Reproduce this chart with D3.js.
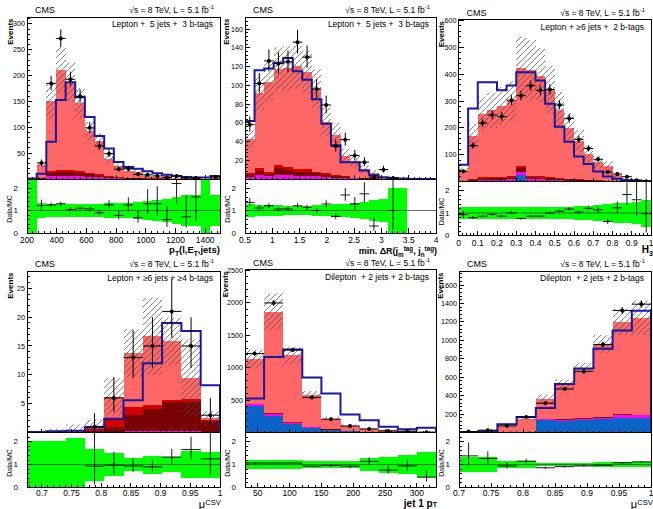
<!DOCTYPE html>
<html>
<head>
<meta charset="utf-8">
<script src="https://cdn.jsdelivr.net/npm/d3@7/dist/d3.min.js"></script>
<style>
html,body{margin:0;padding:0;background:#fff;}
svg{display:block;}
text{font-family:"Liberation Sans",Arial,Helvetica,sans-serif;}
</style>
</head>
<body>
<svg id="chart" width="653" height="509"></svg>
<script>
// ================= DATA =================
const panelLabels = ["Lepton +  5 jets +  3 b-tags","Lepton +  5 jets +  3 b-tags","Lepton + \u22656 jets +  2 b-tags",
                     "Lepton + \u22656 jets + \u22654 b-tags","Dilepton  + 2 jets + 2 b-tags","Dilepton  + 2 jets + 2 b-tags"];
const ratioYTicks = [0,1,2];

// Panel 1: pT(l,ET,jets)
const p1_xdom = [200,1500];
const p1_xticks = [200,400,600,800,1000,1200,1400];
const p1_yticks = [50,100,150,200,250,300];
const p1_data    = [0,31,185,272,193,160,99,64,49,19,20,9,8,6,3,6,2,2,0,4];
const p1_ratio   = [null,1.22,1.25,1.30,1.04,1.10,1.07,0.90,1.25,0.78,1.24,0.68,1.30,1.30,0.60,2.20,0.72,1.60,null,null];
const p1_blue    = [0,0,0.3,0.4,0.4,0.3,0.3,0.2,0.1,0.1,0,0,0,0,0,0,0,0,0,0];
const p1_magenta = [0,0.5,5,6,6,5,4,3,2,1.2,0.8,0.5,0.3,0.2,0.2,0.1,0.1,0,0,0];
const p1_darkred = [0,1,6,7,7,6,5,3.5,2.5,1.5,1,0.8,0.5,0.4,0.3,0.2,0.2,0.1,0,0.1];
const p1_red     = [0,1,4,4.5,4.5,4,3,2.5,2,1.5,1,0.8,0.5,0.4,0.3,0.2,0.2,0.1,0,0.1];
const p1_salmon  = [0.3,24.5,135,193,170,131,80,64,33,20,13,12,4.7,3.5,4.2,2.3,2.3,1.1,0.05,1.3];
const p1_line    = [1,10,72,153,187,158,120,83,59,33,23,20,15,11,8,6,4,3,3,6];
const p1_hatch   = [0.5,0.25,0.22,0.21,0.2,0.2,0.2,0.2,0.21,0.22,0.23,0.25,0.28,0.3,0.35,0.4,0.5,0.6,1,0.7];
const p1_band    = [2,0.32,0.3,0.3,0.3,0.3,0.3,0.3,0.32,0.33,0.35,0.38,0.42,0.48,0.5,0.6,0.7,0.7,2,0.7];

// Panel 2: min dR
const p2_xdom = [0.5,4];
const p2_xticks = [0.5,1,1.5,2,2.5,3,3.5,4];
const p2_yticks = [20,40,60,80,100,120,140,160];
const p2_data    = [58,102,126,123,125,146,130,96,79,35,42,25,18,2,10,1,0,0,0,0];
const p2_ratio   = [1.36,1.11,1.21,1.07,1.07,1.21,1.14,1.0,1.29,0.74,1.69,1.29,1.74,0.31,null,1.0,null,null,null,null];
const p2_blue    = [0.3,0.5,0.5,0.5,0.5,0.5,0.5,0.4,0.3,0.2,0.1,0.1,0,0,0,0,0,0,0,0];
const p2_magenta = [2,4,3,4,4,3,3,2.5,2,1,0.8,0.5,0.3,0.2,0,0,0,0,0,0];
const p2_darkred = [2,4,2,7,5,4,4,3,2,1.5,1,0.5,0.3,0.2,0.1,0,0,0,0,0];
const p2_red     = [2,3,2,3,3,3,3,2,2,1.5,1,0.5,0.3,0.2,0.1,0,0,0,0,0];
const p2_salmon  = [36.3,80.5,96.5,102.5,105.5,110.5,103.5,88.1,54.7,42.8,22.1,17.8,9.4,5.9,1.2,1.0,0.3,0,0,0];
const p2_line    = [62,116,118,124,129,115,106,85,59,36,18,18,9,4,2,1,0.5,0,0,0];
const p2_hatch   = [0.22,0.2,0.2,0.2,0.2,0.2,0.2,0.22,0.25,0.28,0.3,0.35,0.4,0.5,0.6,1,1,0,0,0];
const p2_band    = [0.27,0.25,0.24,0.23,0.22,0.22,0.22,0.23,0.25,0.28,0.3,0.33,0.38,0.45,0.5,1.0,1.0,0,0,0];

// Panel 3: H3
const p3_xdom = [0,1];
const p3_xticks = [0,0.1,0.2,0.3,0.4,0.5,0.6,0.7,0.8,0.9,1];
const p3_yticks = [100,200,300,400,500,600];
const p3_data    = [38,134,218,248,242,303,320,357,340,343,285,235,157,123,83,35,28,18,5,1];
const p3_ratio   = [0.93,0.79,0.86,0.94,0.86,1.01,0.75,0.86,0.86,1.0,1.08,1.17,1.04,1.21,1.14,0.62,1.23,1.82,1.59,0.97];
const p3_blue    = [0.3,0.5,1,1,1,2,25,2,1.5,1,1,0.5,0.5,0.3,0.2,0.1,0.1,0,0,0];
const p3_magenta = [1,3,5,5,5,6,12,6,6,5,4,3,2,1.5,1,0.5,0.3,0.2,0.1,0];
const p3_darkred = [1,3,5,6,6,7,12,8,7,6,5,4,3,2,1.5,1,0.5,0.3,0.2,0.1];
const p3_red     = [1,3,4,5,5,6,8,6,6,5,4,3,2.5,2,1.5,1,0.5,0.3,0.2,0.1];
const p3_salmon  = [37.7,160.5,238,248,265,279,368,393,374.5,326,251,190.5,143,96.2,68.8,53.4,21.6,9.2,2.7,0.83];
const p3_line    = [62,272,370,370,340,358,407,407,377,290,204,148,93,65,37,19,10,6,4,2];
const p3_hatch   = [0.28,0.26,0.25,0.25,0.25,0.25,0.27,0.27,0.26,0.26,0.26,0.27,0.28,0.3,0.32,0.35,0.4,0.45,0.5,0.6];
const p3_band    = [0.25,0.25,0.25,0.25,0.25,0.25,0.25,0.25,0.25,0.25,0.26,0.28,0.3,0.33,0.36,0.4,0.43,0.45,0.5,0.6];

// Panel 4: muCSV, lepton >=6 jets >=4 b-tags
const p4_xdom = [0.675,1];
const p4_xticks = [0.7,0.75,0.8,0.85,0.9,0.95,1];
const p4_yticks = [5,10,15,20,25];
const p4_data    = [0,0,0,1,6,13,15,21,15,3];
const p4_ratio   = [null,null,null,0.93,0.97,0.94,0.9,1.33,1.66,1.25];
const p4_blue    = [0,0,0,0,0,0,0,0,0,0];
const p4_magenta = [0,0,0,0,0.1,0.2,0.3,0.3,0.3,0.15];
const p4_darkred = [0,0,0.05,0.3,0.8,2.8,3.7,5.0,5.0,1.8];
const p4_red     = [0,0,0.05,0.3,1.5,1.5,0.7,0.4,0.5,0.3];
const p4_salmon  = [0.1,0.2,0.4,0.47,3.8,9.3,12.0,10.1,3.6,0.25];
const p4_line    = [0.1,0.2,0.3,0.85,2.4,5.6,12.0,19.0,17.6,8.2];
const p4_hatch   = [1.5,2,1.8,1.1,0.52,0.3,0.4,0.26,0.72,0.48];
const p4_band    = [1.04,1.04,1.14,0.7,0.5,0.3,0.39,0.32,0.6,0.57];

// Panel 5: jet 1 pT, dilepton
const p5_xdom = [30,330];
const p5_xticks = [50,100,150,200,250,300];
const p5_yticks = [500,1000,1500,2000,2500];
const p5_data    = [1215,1995,1270,540,205,100,55,24,19,5];
const p5_ratio   = [1.07,1.07,1.07,0.93,0.96,0.93,1.14,0.76,0.94,0.45];
const p5_blue    = [410,256,128,72,36,18,9,5,3,1.5];
const p5_magenta = [26,36,21,15,10,5,3,2,1,0.5];
const p5_darkred = [2,3,2,1.5,1,0.5,0.3,0.2,0.1,0.1];
const p5_red     = [3,4,3,2,1,0.5,0.3,0.2,0.1,0.1];
const p5_salmon  = [689,1561,1036,489,165,83,35,24,16,9];
const p5_line    = [523,1164,1277,846,600,277,190,87,51,72];
const p5_hatch   = [0.13,0.15,0.11,0.1,0.12,0.15,0.2,0.25,0.3,0.4];
const p5_band    = [0.18,0.18,0.18,0.14,0.14,0.14,0.3,0.35,0.42,0.53];

// Panel 6: muCSV, dilepton
const p6_xdom = [0.7,1];
const p6_xticks = [0.7,0.75,0.8,0.85,0.9,0.95,1];
const p6_yticks = [200,400,600,800,1000,1200,1400,1600];
const p6_data    = [10,25,72,168,318,472,662,955,1324,1392];
const p6_ratio   = [1.38,1.27,0.94,1.15,0.86,0.91,0.94,0.97,1.08,1.12];
const p6_blue    = [0,0,0,0,132,125,132,143,161,157];
const p6_magenta = [0,0,0.5,1,11,15,18,18,32,29];
const p6_darkred = [0,0,0.3,0.5,2,3,4,6,8,8];
const p6_red     = [0,0,0,0,0,0,0,0,0,0];
const p6_salmon  = [7.2,19.7,74.2,148.5,220,377,546,793,999,1051];
const p6_line    = [4,14,89,168,265,526,694,909,1106,1320];
const p6_hatch   = [0.3,0.3,0.15,0.15,0.13,0.11,0.08,0.1,0.12,0.15];
const p6_band    = [0.34,0.34,0.15,0.15,0.08,0.08,0.08,0.12,0.12,0.1];

// ================= LAYOUT / STYLE =================
const COL = {salmon:"#ff6666", red:"#d40000", darkred:"#780000", magenta:"#ff00ff", blue:"#0a64c8",
             line:"#1818a0", band:"#00ff00"};
const layout = [
  {x0:27,   x1:220, top:17,    mid:179,   bot:233,   ymax:313.5, yminor:10,  xminor:40,   evx:14.5, lab:10},
  {x0:245,  x1:436, top:17,    mid:179,   bot:233,   ymax:172.8, yminor:4,   xminor:0.1,  evx:16,   lab:10},
  {x0:458.5,x1:651, top:19.5,  mid:181.5, bot:235.5, ymax:604,   yminor:20,  xminor:0.02, evx:15,   lab:10},
  {x0:27,   x1:220, top:271,   mid:432.5, bot:487.5, ymax:28,    yminor:1,   xminor:0.01, evx:14.5, lab:8.3},
  {x0:245,  x1:436, top:269.5, mid:432.5, bot:487.5, ymax:2510,  yminor:100, xminor:10,   evx:17.5, lab:8.3},
  {x0:459,  x1:651, top:271,   mid:432.5, bot:487.5, ymax:1752,  yminor:40,  xminor:0.01, evx:16.5, lab:8.3}
];
const panels = [
  {xdom:p1_xdom,xticks:p1_xticks,yticks:p1_yticks,data:p1_data,ratio:p1_ratio,blue:p1_blue,magenta:p1_magenta,darkred:p1_darkred,red:p1_red,salmon:p1_salmon,line:p1_line,hatch:p1_hatch,band:p1_band},
  {xdom:p2_xdom,xticks:p2_xticks,yticks:p2_yticks,data:p2_data,ratio:p2_ratio,blue:p2_blue,magenta:p2_magenta,darkred:p2_darkred,red:p2_red,salmon:p2_salmon,line:p2_line,hatch:p2_hatch,band:p2_band},
  {xdom:p3_xdom,xticks:p3_xticks,yticks:p3_yticks,data:p3_data,ratio:p3_ratio,blue:p3_blue,magenta:p3_magenta,darkred:p3_darkred,red:p3_red,salmon:p3_salmon,line:p3_line,hatch:p3_hatch,band:p3_band},
  {xdom:p4_xdom,xticks:p4_xticks,yticks:p4_yticks,data:p4_data,ratio:p4_ratio,blue:p4_blue,magenta:p4_magenta,darkred:p4_darkred,red:p4_red,salmon:p4_salmon,line:p4_line,hatch:p4_hatch,band:p4_band},
  {xdom:p5_xdom,xticks:p5_xticks,yticks:p5_yticks,data:p5_data,ratio:p5_ratio,blue:p5_blue,magenta:p5_magenta,darkred:p5_darkred,red:p5_red,salmon:p5_salmon,line:p5_line,hatch:p5_hatch,band:p5_band},
  {xdom:p6_xdom,xticks:p6_xticks,yticks:p6_yticks,data:p6_data,ratio:p6_ratio,blue:p6_blue,magenta:p6_magenta,darkred:p6_darkred,red:p6_red,salmon:p6_salmon,line:p6_line,hatch:p6_hatch,band:p6_band}
];

const svg = d3.select("#chart");
svg.append("rect").attr("width",653).attr("height",509).attr("fill","#fff");
const defs = svg.append("defs");
const pat = defs.append("pattern").attr("id","hatch").attr("patternUnits","userSpaceOnUse")
  .attr("width",6).attr("height",6);
pat.append("path").attr("d","M0,6 L6,0 M-1.5,1.5 L1.5,-1.5 M4.5,7.5 L7.5,4.5")
  .attr("stroke","#4a4a4a").attr("stroke-width",0.7).attr("fill","none");

function rich(g, x, y, parts, o){
  const t = g.append("text").attr("x",x).attr("y",y).attr("text-anchor",o.anchor||"start")
    .attr("font-size",o.size).attr("font-weight",o.weight||"normal").attr("fill","#000")
    .style("white-space","pre");
  let shift = 0;
  const subK = o.sub==null ? 0.3 : o.sub, supK = o.sup==null ? 0.42 : o.sup;
  parts.forEach(([s,kind])=>{
    const target = kind==="sub" ? o.size*subK : kind==="sup" ? -o.size*supK : 0;
    const sp = t.append("tspan").text(s).attr("dy", target-shift);
    shift = target;
    if(kind) sp.attr("font-size", o.size*0.7);
  });
  return t;
}

function fmt(v){ return String(+v.toFixed(4)); }

function drawPanel(L, d, idx){
  const nb = d.data.length;
  const x = d3.scaleLinear().domain(d.xdom).range([L.x0, L.x1]);
  const y = d3.scaleLinear().domain([0, L.ymax]).range([L.mid, L.top]);
  const yr = d3.scaleLinear().domain([0, 2.4]).range([L.bot, L.mid]);
  const bw = (d.xdom[1]-d.xdom[0])/nb;
  const ex = i => x(d.xdom[0] + i*bw);
  const exr = i => Math.round(ex(i));
  const g = svg.append("g");
  defs.append("clipPath").attr("id","cm"+idx).append("rect")
    .attr("x",L.x0).attr("y",L.top).attr("width",L.x1-L.x0).attr("height",L.mid-L.top);
  defs.append("clipPath").attr("id","cr"+idx).append("rect")
    .attr("x",L.x0).attr("y",L.mid).attr("width",L.x1-L.x0).attr("height",L.bot-L.mid);
  const gm = g.append("g").attr("clip-path",`url(#cm${idx})`);
  const gr = g.append("g").attr("clip-path",`url(#cr${idx})`);

  // stacked MC
  const cum = new Array(nb).fill(0);
  const gs = gm.append("g").attr("shape-rendering","crispEdges");
  [["blue",d.blue],["magenta",d.magenta],["darkred",d.darkred],["red",d.red],["salmon",d.salmon]].forEach(([k,arr])=>{
    arr.forEach((v,i)=>{
      if(!(v>0)) return;
      const b = cum[i], t = b+v;
      gs.append("rect").attr("x",exr(i)).attr("width",exr(i+1)-exr(i))
        .attr("y",y(t)).attr("height",Math.max(0,y(b)-y(t))).attr("fill",COL[k]);
      cum[i] = t;
    });
  });
  // uncertainty hatch
  cum.forEach((t,i)=>{
    if(!(t>0)) return;
    const u = d.hatch[i];
    const a = Math.max(0,t*(1-u)), b = t*(1+u);
    gm.append("rect").attr("x",exr(i)).attr("width",exr(i+1)-exr(i))
      .attr("y",y(b)).attr("height",y(a)-y(b)).attr("fill","url(#hatch)");
  });
  // blue shape line
  const p = d3.path();
  p.moveTo(ex(0), y(0));
  d.line.forEach((v,i)=>{ p.lineTo(ex(i),y(v)); p.lineTo(ex(i+1),y(v)); });
  p.lineTo(ex(nb), y(0));
  gm.append("path").attr("d",p.toString()).attr("fill","none").attr("stroke",COL.line).attr("stroke-width",2);
  // data points
  d.data.forEach((n,i)=>{
    if(!(n>0)) return;
    const cx = (ex(i)+ex(i+1))/2;
    const up = Math.sqrt(n+0.75)+1, dn = Math.sqrt(Math.max(n-0.25,0));
    gm.append("line").attr("x1",cx).attr("x2",cx).attr("y1",y(n+up)).attr("y2",y(n-dn)).attr("stroke","#000").attr("stroke-width",1);
    gm.append("line").attr("x1",ex(i)).attr("x2",ex(i+1)).attr("y1",y(n)).attr("y2",y(n)).attr("stroke","#000").attr("stroke-width",1);
    gm.append("circle").attr("cx",cx).attr("cy",y(n)).attr("r",2).attr("fill","#000");
  });

  // ratio band
  const gb = gr.append("g").attr("shape-rendering","crispEdges");
  d.band.forEach((u,i)=>{
    if(!(u>0)) return;
    const a = Math.max(0,1-u), b = 1+u;
    gb.append("rect").attr("x",exr(i)).attr("width",exr(i+1)-exr(i))
      .attr("y",yr(b)).attr("height",yr(a)-yr(b)).attr("fill",COL.band);
  });
  gr.append("line").attr("x1",L.x0).attr("x2",L.x1).attr("y1",yr(1)).attr("y2",yr(1))
    .attr("stroke","#444").attr("stroke-width",0.8);
  d.ratio.forEach((r,i)=>{
    if(r==null) return;
    const n = d.data[i]; if(!(n>0)) return;
    const cx = (ex(i)+ex(i+1))/2;
    const up = r*(Math.sqrt(n+0.75)+1)/n, dn = r*Math.sqrt(Math.max(n-0.25,0))/n;
    gr.append("line").attr("x1",cx).attr("x2",cx).attr("y1",yr(r+up)).attr("y2",yr(Math.max(0,r-dn))).attr("stroke","#000").attr("stroke-width",0.9);
    gr.append("line").attr("x1",ex(i)).attr("x2",ex(i+1)).attr("y1",yr(r)).attr("y2",yr(r)).attr("stroke","#000").attr("stroke-width",0.9);
  });

  // frames
  const fr = g.append("g").attr("fill","none").attr("stroke","#000").attr("stroke-width",1).attr("shape-rendering","crispEdges");
  fr.append("rect").attr("x",L.x0).attr("y",L.top).attr("width",L.x1-L.x0).attr("height",L.mid-L.top);
  fr.append("rect").attr("x",L.x0).attr("y",L.mid).attr("width",L.x1-L.x0).attr("height",L.bot-L.mid);

  // ticks
  const tk = g.append("g").attr("stroke","#000").attr("stroke-width",1).attr("shape-rendering","crispEdges");
  d3.range(0, L.ymax+1e-9, L.yminor).forEach(v=>{
    const major = d.yticks.some(t=>Math.abs(t-v)<1e-6) || Math.abs(v)<1e-9;
    tk.append("line").attr("x1",L.x0).attr("x2",L.x0+(major?5:2.5)).attr("y1",y(v)).attr("y2",y(v));
  });
  const xmin0 = Math.ceil((d.xdom[0]-1e-9)/L.xminor)*L.xminor;
  d3.range(xmin0, d.xdom[1]+1e-9, L.xminor).forEach(v=>{
    const major = d.xticks.some(t=>Math.abs(t-v)<1e-6);
    const xx = x(v);
    tk.append("line").attr("x1",xx).attr("x2",xx).attr("y1",L.mid).attr("y2",L.mid-(major?4:2));
    tk.append("line").attr("x1",xx).attr("x2",xx).attr("y1",L.bot).attr("y2",L.bot-(major?5:2.5));
  });
  d3.range(0, 2.4+1e-9, 0.2).forEach(v=>{
    const major = ratioYTicks.some(t=>Math.abs(t-v)<1e-6);
    tk.append("line").attr("x1",L.x0).attr("x2",L.x0+(major?5:2.5)).attr("y1",yr(v)).attr("y2",yr(v));
  });

  // tick labels
  const tl = g.append("g").attr("fill","#000");
  d.yticks.forEach(v=>{
    tl.append("text").attr("x",L.x0-2).attr("y",y(v)).attr("dy","0.35em").attr("text-anchor","end")
      .attr("font-size",7.2).text(fmt(v));
  });
  ratioYTicks.forEach(v=>{
    tl.append("text").attr("x",L.x0-9).attr("y",yr(v)).attr("dy","0.35em").attr("text-anchor","end")
      .attr("font-size",8).text(fmt(v));
  });
  d.xticks.forEach(v=>{
    tl.append("text").attr("x",x(v)).attr("y",L.bot+L.lab).attr("text-anchor","middle")
      .attr("font-size",8.5).text(fmt(v));
  });

  // header texts
  g.append("text").attr("x",L.x0+8).attr("y",L.top-4).attr("font-size",9).text("CMS");
  rich(g, L.x1-6, L.top-4, [["\u221As = 8 TeV, L = 5.1 fb"],["-1","sup"]], {anchor:"end", size:8.5});
  g.append("text").attr("x",L.x1-7).attr("y",L.top+10).attr("text-anchor","end").attr("font-size",8.5)
    .style("white-space","pre").text(panelLabels[idx]);
  g.append("text").attr("transform",`translate(${L.x0-L.evx},${L.top+1.5}) rotate(-90)`)
    .attr("text-anchor","end").attr("font-size",8).attr("font-weight","bold").text("Events");
  g.append("text").attr("transform",`translate(${L.x0-15},${(L.mid+L.bot)/2+3}) rotate(-90)`)
    .attr("text-anchor","middle").attr("font-size",7).text("Data/MC");
  return g;
}

panels.forEach((d,i)=>drawPanel(layout[i], d, i));

// axis titles
const tg = svg.append("g");
rich(tg, 220, 253, [["p"],["T","sub"],["(l,E"],["T","sub"],[",jets)"]], {anchor:"end", size:9.5, weight:"bold"});
rich(tg, 437, 254, [["min. \u0394R(j"],["m","sub"],["tag","sup"],[", j"],["n","sub"],["tag","sup"],[")"]], {anchor:"end", size:9, weight:"bold", sup:0.3});
rich(tg, 653, 253, [["H"],["3","sub"]], {anchor:"end", size:10, weight:"bold"});
rich(tg, 221, 507.5, [["\u03BC"],["CSV","sup"]], {anchor:"end", size:11, sup:0.22});
rich(tg, 437, 506.8, [["jet 1 p"],["T","sub"]], {anchor:"end", size:10, weight:"bold", sub:0.03});
rich(tg, 653, 507.5, [["\u03BC"],["CSV","sup"]], {anchor:"end", size:11, sup:0.22});
</script>
</body>
</html>
